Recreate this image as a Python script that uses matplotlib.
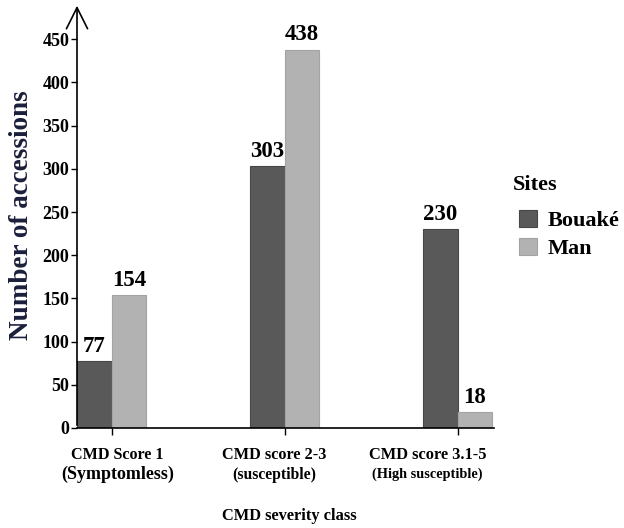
import matplotlib.pyplot as plt
import numpy as np

plt.rcParams['font.family'] = ['Liberation Serif', 'DejaVu Serif']
plt.rcParams['font.weight'] = 'bold'

# data
categories = ["CMD Score 1\n(Symptomless)", "CMD score 2-3\n(susceptible)", "CMD score 3.1-5\n(High susceptible)"]
sites = ["Bouaké", "Man"]
bouake = [77, 303, 230]
man = [154, 438, 18]
yticks = [0, 50, 100, 150, 200, 250, 300, 350, 400, 450]

fig = plt.figure(figsize=(6.24, 5.28), dpi=100)
ax = fig.add_axes([0.1234, 0.1894, 0.668, 0.805])

x = np.arange(len(categories))
barWidth = 0.2

b1 = ax.bar(x - barWidth / 2, bouake, width=barWidth, color='#595959', edgecolor='#474747', linewidth=0.8, label=sites[0])
b2 = ax.bar(x + barWidth / 2, man, width=barWidth, color='#b2b2b2', edgecolor='#a3a3a3', linewidth=0.8, label=sites[1])

for bars in (b1, b2):
    for rect in bars:
        h = rect.get_height()
        ax.text(rect.get_x() + rect.get_width() / 2, h + 5, str(int(h)),
                ha='center', va='bottom', fontsize=16.5, fontweight='bold')

ax.set_xlim(-0.2, 2.21)
ax.set_ylim(0, 492)
ax.set_yticks(yticks)
ax.set_yticklabels([str(t) for t in yticks], fontsize=13, fontweight='bold')
ax.set_xticks(x)
ax.set_xticklabels([])
ax.tick_params(axis='y', length=4.5, width=1, pad=1)
ax.tick_params(axis='x', length=5, width=1)

# category labels, slightly off-centre like the reference
label_x = [0.035, 0.942, 1.827]
size_top = [11.6, 11.7, 11.8]
size_bottom = [13, 11.3, 10.3]
for i, lab in enumerate(categories):
    first, second = lab.split("\n")
    ax.text(label_x[i], -31, first, ha='center', va='center', fontsize=size_top[i], fontweight='bold')
    ax.text(label_x[i], -54, second, ha='center', va='center', fontsize=size_bottom[i], fontweight='bold')

ax.text(1.03, -102, "CMD severity class", ha='center', va='center', fontsize=11.8, fontweight='bold')

ax.set_ylabel("Number of accessions", fontsize=19.5, fontweight='bold', color='#1b1f3b', labelpad=6)

for s in ['top', 'right']:
    ax.spines[s].set_visible(False)
ax.spines['left'].set_visible(False)
ax.spines['bottom'].set_linewidth(1.2)

# y axis drawn as an arrow
ax.annotate('', xy=(0, 1.0), xycoords='axes fraction', xytext=(0, 0), textcoords='axes fraction',
            arrowprops=dict(arrowstyle='->', lw=1.2, color='black', mutation_scale=38))

fig.text(513 / 624, 1 - 185 / 528, "Sites", ha='left', va='center', fontsize=16, fontweight='bold')
leg = fig.legend(handles=[b1, b2], labels=sites, loc='upper left',
                 bbox_to_anchor=(519 / 624, 1 - 210 / 528), frameon=False, fontsize=16,
                 handlelength=0.8, handleheight=0.8, borderpad=0, borderaxespad=0,
                 handletextpad=0.5, labelspacing=0.3)

fig.savefig("out.png", dpi=100)
